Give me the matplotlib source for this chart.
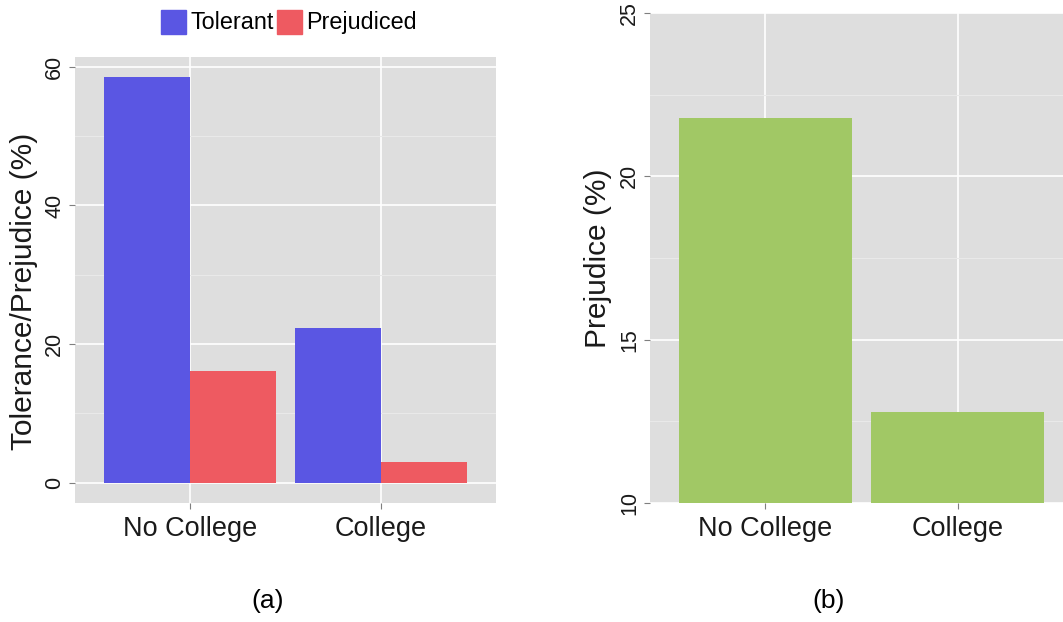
import numpy as np
import matplotlib
matplotlib.use("Agg")
import matplotlib.pyplot as plt
from matplotlib.patches import Rectangle

plt.rcParams['font.family'] = ['Liberation Sans', 'DejaVu Sans']

# Education groups and the two outcome series
groups = ['No College', 'College']
tolerant = [58.5, 22.3]
prejudiced = [16.1, 3.0]
prejudice_only = [21.8, 12.8]

series_names = ['Tolerant', 'Prejudiced']
series_colors = ['#5A56E3', '#EE5A61']
green = '#A1C865'

panel_bg = '#DEDEDE'
minor_grid = '#E9E9E9'
text_col = '#1A1A1A'
tick_col = '#7F7F7F'


def gg_style(ax, major, minor):
    ax.set_facecolor(panel_bg)
    for s in ax.spines.values():
        s.set_visible(False)
    ax.set_yticks(major)
    ax.set_yticks(minor, minor=True)
    ax.grid(True, which='major', color='white', linewidth=1.2)
    ax.grid(True, which='minor', axis='y', color=minor_grid, linewidth=0.8)
    ax.set_axisbelow(True)
    ax.tick_params(axis='both', which='major', length=4, color=tick_col, width=0.8,
                   labelcolor=text_col)
    ax.tick_params(axis='x', labelsize=19.5, pad=5)
    ax.tick_params(axis='y', labelsize=15.5, pad=3)
    ax.tick_params(axis='both', which='minor', length=0)
    for lab in ax.get_yticklabels():
        lab.set_rotation(90)
        lab.set_va('center')


fig = plt.figure(figsize=(10.63, 6.22), dpi=100)

# (a) tolerance and prejudice side by side
x = np.arange(1, len(groups) + 1)
bw = 0.45
ax1 = fig.add_axes([75 / 1063, 1 - 503 / 622, 421 / 1063, 446 / 622])
top = max(tolerant + prejudiced)
ax1.bar(x - bw / 2, tolerant, width=bw, color=series_colors[0], zorder=3)
ax1.bar(x + bw / 2, prejudiced, width=bw, color=series_colors[1], zorder=3)
ax1.set_xlim(0.4, 2.6)
ax1.set_ylim(-0.05 * top, 1.05 * top)
ax1.set_xticks(x)
ax1.set_xticklabels(groups)
gg_style(ax1, [0, 20, 40, 60], [10, 30, 50])
ax1.set_ylabel('Tolerance/Prejudice (%)', fontsize=21.5, color=text_col)
ax1.yaxis.set_label_coords(-0.088, 0.475)

# legend above panel (a)
handles = [Rectangle((0, 0), 1, 1, color=c) for c in series_colors]
fig.legend(handles, series_names, loc='center', bbox_to_anchor=(289 / 1063, 1 - 22 / 622),
           ncol=2, frameon=False, fontsize=16.8, handlelength=1.07, handleheight=1.2,
           handletextpad=0.2, columnspacing=0.13, borderpad=0)

# (b) prejudice only
ax2 = fig.add_axes([650 / 1063, 1 - 503 / 622, 423 / 1063, 490 / 622])
ax2.bar(x, prejudice_only, width=0.9, color=green, zorder=3)
ax2.set_xlim(0.4, 2.6)
ax2.set_ylim(10, 25)
ax2.set_xticks(x)
ax2.set_xticklabels(groups)
gg_style(ax2, [10, 15, 20, 25], [12.5, 17.5, 22.5])
ax2.set_ylabel('Prejudice (%)', fontsize=21.5, color=text_col)
ax2.yaxis.set_label_coords(-0.09, 0.5)

fig.text(268 / 1063, 1 - 601 / 622, '(a)', ha='center', va='center', fontsize=19, color='black')
fig.text(829 / 1063, 1 - 601 / 622, '(b)', ha='center', va='center', fontsize=19, color='black')

fig.savefig('out.png', dpi=100)
